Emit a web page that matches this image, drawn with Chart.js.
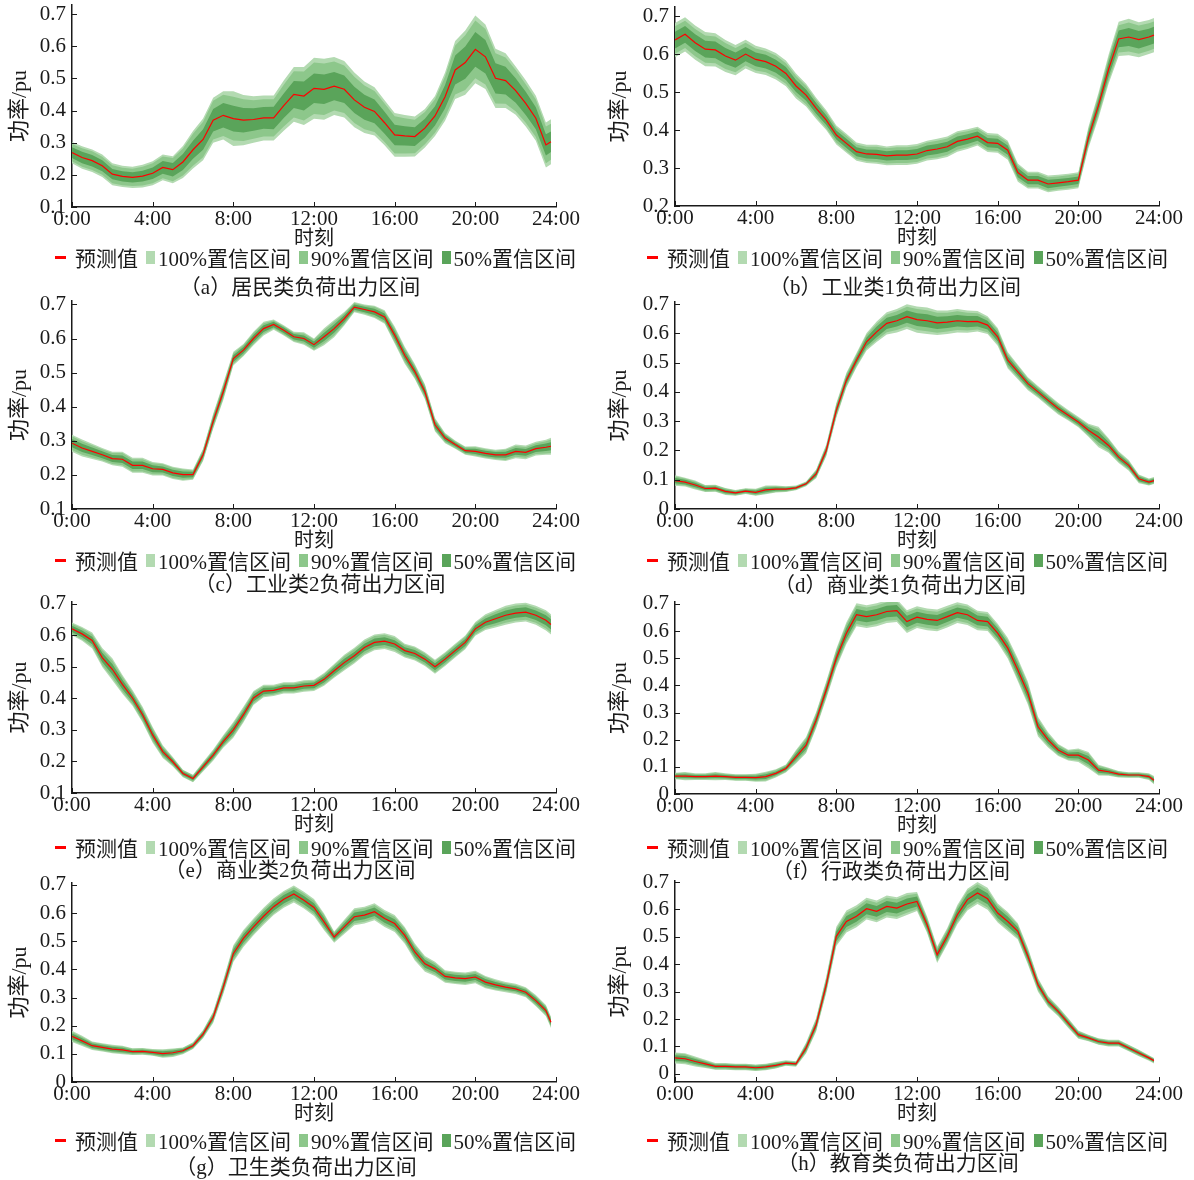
<!DOCTYPE html>
<html>
<head>
<meta charset="utf-8">
<script src="https://cdn.jsdelivr.net/npm/chart.js"></script>
<style>
  body { margin: 0; background: #fff; width: 1194px; height: 1180px; position: relative; overflow: hidden;
         font-family: 'Liberation Serif', 'Noto Sans CJK SC', serif; color: #1a1a1a; }
  canvas { position: absolute; }
  .legend { position: absolute; display: flex; align-items: center; height: 24px; font-size: 21px; white-space: nowrap; }
  .legend .dash { width: 11px; height: 3px; background: #ff0000; margin-right: 9px; }
  .legend .box { width: 9px; height: 13px; margin: 0 3px 0 8px; }
  .caption { position: absolute; font-size: 21px; height: 24px; line-height: 24px; white-space: nowrap; transform: translateX(-50%); }
</style>
</head>
<body>
<script>
// time axis (hours), 30 min steps, last point 23:45
const times = [0,0.5,1,1.5,2,2.5,3,3.5, 4,4.5,5,5.5,6,6.5,7,7.5, 8,8.5,9,9.5,10,10.5,11,11.5,
               12,12.5,13,13.5,14,14.5,15,15.5, 16,16.5,17,17.5,18,18.5,19,19.5, 20,20.5,21,21.5,22,22.5,23,23.5, 23.75];
const xTicks = [0, 4, 8, 12, 16, 20, 24];
const xTickLabels = ['0:00', '4:00', '8:00', '12:00', '16:00', '20:00', '24:00'];
const yTicks = [0, 0.1, 0.2, 0.3, 0.4, 0.5, 0.6, 0.7];
const yTickLabels = ['0', '0.1', '0.2', '0.3', '0.4', '0.5', '0.6', '0.7'];
const legendLabels = ['预测值', '100%置信区间', '90%置信区间', '50%置信区间'];

// (a) 居民类
const aPred = [0.269,0.254,0.244,0.228,0.202,0.195,0.192,0.196, 0.205,0.223,0.216,0.240,0.278,0.310,0.370,0.385,
  0.375,0.370,0.372,0.377,0.377,0.415,0.450,0.445, 0.469,0.466,0.476,0.466,0.433,0.410,0.397,0.362,
  0.324,0.321,0.319,0.345,0.383,0.443,0.526,0.549, 0.590,0.567,0.500,0.493,0.462,0.422,0.376,0.293, 0.303];
const aW100 = [0.033,0.035,0.035,0.035,0.034,0.033,0.033,0.035, 0.037,0.040,0.042,0.050,0.058,0.065,0.070,0.075,
  0.085,0.078,0.072,0.070,0.070,0.078,0.085,0.090, 0.095,0.095,0.090,0.088,0.085,0.080,0.075,0.070,
  0.068,0.065,0.062,0.060,0.062,0.075,0.090,0.100, 0.105,0.100,0.092,0.085,0.075,0.072,0.070,0.070, 0.070];
const aW90 = [0.027,0.029,0.029,0.028,0.028,0.027,0.027,0.029, 0.031,0.034,0.036,0.042,0.050,0.055,0.060,0.064,
  0.068,0.065,0.060,0.058,0.058,0.065,0.072,0.076, 0.080,0.080,0.076,0.074,0.072,0.068,0.064,0.060,
  0.058,0.055,0.052,0.050,0.052,0.063,0.076,0.085, 0.090,0.086,0.078,0.072,0.064,0.060,0.058,0.057, 0.056];
const aW50 = [0.017,0.018,0.018,0.017,0.016,0.016,0.016,0.017, 0.018,0.020,0.021,0.025,0.028,0.032,0.035,0.038,
  0.040,0.038,0.035,0.034,0.035,0.038,0.042,0.045, 0.046,0.046,0.044,0.043,0.041,0.039,0.037,0.034,
  0.032,0.030,0.029,0.029,0.030,0.036,0.045,0.050, 0.054,0.052,0.047,0.043,0.038,0.036,0.034,0.033, 0.032];

// (b) 工业类1
const bPred = [0.637,0.652,0.630,0.613,0.611,0.595,0.584,0.600, 0.586,0.580,0.568,0.549,0.516,0.492,0.457,0.426,
  0.387,0.365,0.343,0.337,0.336,0.332,0.334,0.334, 0.337,0.346,0.350,0.356,0.370,0.376,0.384,0.367,
  0.365,0.347,0.288,0.268,0.268,0.258,0.261,0.264, 0.268,0.380,0.465,0.560,0.640,0.645,0.638,0.645, 0.650];
const bW100 = [0.045,0.045,0.045,0.045,0.044,0.042,0.040,0.038, 0.036,0.035,0.035,0.034,0.033,0.030,0.028,0.026,
  0.025,0.025,0.024,0.024,0.025,0.025,0.026,0.026, 0.026,0.026,0.027,0.027,0.027,0.026,0.025,0.025,
  0.025,0.025,0.024,0.022,0.022,0.022,0.021,0.021, 0.021,0.028,0.033,0.038,0.045,0.048,0.046,0.045, 0.045];
const bW90 = [0.036,0.036,0.036,0.036,0.035,0.034,0.032,0.030, 0.029,0.028,0.028,0.027,0.026,0.024,0.022,0.021,
  0.020,0.020,0.019,0.019,0.020,0.020,0.021,0.021, 0.021,0.021,0.022,0.022,0.022,0.021,0.020,0.020,
  0.020,0.020,0.019,0.018,0.018,0.018,0.017,0.017, 0.017,0.022,0.026,0.030,0.036,0.038,0.037,0.036, 0.036];
const bW50 = [0.022,0.022,0.022,0.022,0.022,0.021,0.020,0.019, 0.018,0.018,0.017,0.017,0.016,0.015,0.014,0.013,
  0.012,0.012,0.012,0.012,0.012,0.012,0.013,0.013, 0.013,0.013,0.013,0.013,0.013,0.013,0.012,0.012,
  0.012,0.012,0.012,0.011,0.011,0.011,0.010,0.010, 0.010,0.014,0.016,0.019,0.022,0.024,0.023,0.022, 0.022];

// (c) 工业类2
const cPred = [0.293,0.279,0.269,0.259,0.248,0.246,0.228,0.228, 0.218,0.216,0.206,0.201,0.201,0.259,0.357,0.444,
  0.541,0.566,0.600,0.629,0.641,0.624,0.605,0.600, 0.582,0.605,0.629,0.658,0.692,0.685,0.678,0.663,
  0.610,0.551,0.503,0.444,0.347,0.308,0.289,0.271, 0.269,0.263,0.259,0.259,0.269,0.266,0.277,0.281, 0.284];
const cW100 = [0.025,0.025,0.022,0.020,0.020,0.022,0.022,0.022, 0.020,0.018,0.018,0.018,0.015,0.018,0.022,0.025,
  0.020,0.018,0.020,0.020,0.015,0.015,0.015,0.018, 0.018,0.025,0.025,0.020,0.015,0.015,0.018,0.020,
  0.025,0.025,0.022,0.022,0.020,0.015,0.012,0.012, 0.015,0.015,0.015,0.018,0.020,0.020,0.020,0.022, 0.025];
const cW90 = [0.020,0.020,0.018,0.016,0.016,0.018,0.018,0.018, 0.016,0.015,0.015,0.015,0.012,0.015,0.018,0.020,
  0.016,0.015,0.016,0.016,0.012,0.012,0.012,0.015, 0.015,0.020,0.020,0.016,0.012,0.012,0.015,0.016,
  0.020,0.020,0.018,0.018,0.016,0.012,0.010,0.010, 0.012,0.012,0.012,0.015,0.016,0.016,0.016,0.018, 0.020];
const cW50 = [0.012,0.012,0.011,0.010,0.010,0.011,0.011,0.011, 0.010,0.009,0.009,0.009,0.008,0.009,0.011,0.012,
  0.010,0.009,0.010,0.010,0.008,0.008,0.008,0.009, 0.009,0.012,0.012,0.010,0.008,0.008,0.009,0.010,
  0.012,0.012,0.011,0.011,0.010,0.008,0.006,0.006, 0.008,0.008,0.008,0.009,0.010,0.010,0.010,0.011, 0.012];

// (d) 商业类1
const dPred = [0.097,0.092,0.082,0.070,0.071,0.060,0.055,0.061, 0.057,0.065,0.068,0.068,0.072,0.086,0.120,0.200,
  0.337,0.440,0.508,0.571,0.605,0.634,0.643,0.657, 0.647,0.643,0.636,0.638,0.643,0.640,0.641,0.628,
  0.588,0.508,0.468,0.428,0.400,0.371,0.343,0.320, 0.297,0.269,0.246,0.217,0.177,0.149,0.103,0.092, 0.097];
const dW100 = [0.018,0.015,0.015,0.012,0.012,0.012,0.010,0.010, 0.012,0.015,0.012,0.010,0.008,0.008,0.015,0.020,
  0.025,0.025,0.025,0.030,0.035,0.038,0.040,0.042, 0.045,0.045,0.042,0.040,0.040,0.038,0.035,0.030,
  0.030,0.028,0.025,0.022,0.020,0.020,0.020,0.018, 0.018,0.022,0.035,0.025,0.020,0.018,0.015,0.012, 0.012];
const dW90 = [0.014,0.012,0.012,0.010,0.010,0.010,0.008,0.008, 0.010,0.012,0.010,0.008,0.006,0.006,0.012,0.016,
  0.020,0.020,0.020,0.024,0.028,0.030,0.032,0.034, 0.036,0.036,0.034,0.032,0.032,0.030,0.028,0.024,
  0.024,0.022,0.020,0.018,0.016,0.016,0.016,0.014, 0.014,0.018,0.028,0.020,0.016,0.014,0.012,0.010, 0.010];
const dW50 = [0.009,0.008,0.008,0.006,0.006,0.006,0.005,0.005, 0.006,0.008,0.006,0.005,0.004,0.004,0.008,0.010,
  0.012,0.012,0.012,0.015,0.018,0.019,0.020,0.021, 0.022,0.022,0.021,0.020,0.020,0.019,0.018,0.015,
  0.015,0.014,0.012,0.011,0.010,0.010,0.010,0.009, 0.009,0.011,0.018,0.012,0.010,0.009,0.008,0.006, 0.006];

// (e) 商业类2
const ePred = [0.620,0.604,0.583,0.529,0.492,0.444,0.401,0.348, 0.284,0.231,0.199,0.162,0.146,0.183,0.220,0.263,
  0.300,0.348,0.401,0.423,0.425,0.433,0.433,0.439, 0.441,0.460,0.487,0.513,0.535,0.561,0.577,0.581,
  0.572,0.551,0.542,0.524,0.500,0.524,0.551,0.577, 0.620,0.641,0.652,0.663,0.670,0.673,0.663,0.647, 0.634];
const eW100 = [0.020,0.022,0.025,0.030,0.035,0.030,0.025,0.025, 0.025,0.020,0.015,0.012,0.012,0.015,0.018,0.020,
  0.025,0.025,0.022,0.020,0.018,0.018,0.018,0.018, 0.018,0.020,0.022,0.025,0.025,0.025,0.025,0.025,
  0.025,0.022,0.022,0.022,0.022,0.022,0.022,0.022, 0.022,0.025,0.028,0.030,0.030,0.030,0.030,0.032, 0.032];
const eW90 = [0.016,0.018,0.020,0.024,0.028,0.024,0.020,0.020, 0.020,0.016,0.012,0.010,0.010,0.012,0.014,0.016,
  0.020,0.020,0.018,0.016,0.014,0.014,0.014,0.014, 0.014,0.016,0.018,0.020,0.020,0.020,0.020,0.020,
  0.020,0.018,0.018,0.018,0.018,0.018,0.018,0.018, 0.018,0.020,0.022,0.024,0.024,0.024,0.024,0.026, 0.026];
const eW50 = [0.010,0.011,0.012,0.015,0.017,0.015,0.012,0.012, 0.012,0.010,0.008,0.006,0.006,0.008,0.009,0.010,
  0.012,0.012,0.011,0.010,0.009,0.009,0.009,0.009, 0.009,0.010,0.011,0.012,0.012,0.012,0.012,0.012,
  0.012,0.011,0.011,0.011,0.011,0.011,0.011,0.011, 0.011,0.012,0.014,0.015,0.015,0.015,0.015,0.016, 0.016];

// (f) 行政类
const fPred = [0.066,0.066,0.064,0.064,0.066,0.064,0.061,0.061, 0.060,0.064,0.076,0.094,0.137,0.180,0.272,0.383,
  0.500,0.592,0.660,0.653,0.660,0.672,0.675,0.635, 0.651,0.643,0.639,0.653,0.668,0.660,0.639,0.635,
  0.592,0.537,0.457,0.371,0.248,0.199,0.162,0.143, 0.143,0.125,0.088,0.082,0.073,0.070,0.070,0.064, 0.051];
const fW100 = [0.012,0.015,0.012,0.012,0.015,0.012,0.012,0.012, 0.015,0.018,0.015,0.015,0.025,0.030,0.030,0.032,
  0.035,0.040,0.042,0.042,0.042,0.042,0.042,0.042, 0.040,0.040,0.040,0.040,0.038,0.038,0.036,0.035,
  0.035,0.038,0.042,0.042,0.036,0.028,0.022,0.020, 0.025,0.030,0.020,0.015,0.012,0.010,0.010,0.012, 0.015];
const fW90 = [0.010,0.012,0.010,0.010,0.012,0.010,0.010,0.010, 0.012,0.014,0.012,0.012,0.020,0.024,0.024,0.026,
  0.028,0.032,0.034,0.034,0.034,0.034,0.034,0.034, 0.032,0.032,0.032,0.032,0.030,0.030,0.029,0.028,
  0.028,0.030,0.034,0.034,0.029,0.022,0.018,0.016, 0.020,0.024,0.016,0.012,0.010,0.008,0.008,0.010, 0.012];
const fW50 = [0.006,0.007,0.006,0.006,0.007,0.006,0.006,0.006, 0.007,0.009,0.007,0.007,0.012,0.015,0.015,0.016,
  0.017,0.020,0.021,0.021,0.021,0.021,0.021,0.021, 0.020,0.020,0.020,0.020,0.019,0.019,0.018,0.018,
  0.018,0.019,0.021,0.021,0.018,0.014,0.011,0.010, 0.012,0.015,0.010,0.007,0.006,0.005,0.005,0.006, 0.007];

// (g) 卫生类
const gPred = [0.162,0.146,0.129,0.123,0.117,0.114,0.108,0.109, 0.105,0.101,0.104,0.111,0.129,0.170,0.230,0.337,
  0.456,0.510,0.551,0.589,0.623,0.649,0.668,0.646, 0.620,0.569,0.515,0.551,0.587,0.593,0.605,0.581,
  0.563,0.521,0.462,0.420,0.402,0.375,0.370,0.367, 0.373,0.355,0.345,0.337,0.331,0.319,0.289,0.254, 0.212];
const gW100 = [0.020,0.018,0.015,0.015,0.015,0.015,0.012,0.012, 0.012,0.015,0.015,0.012,0.012,0.015,0.020,0.025,
  0.030,0.030,0.030,0.030,0.030,0.030,0.030,0.030, 0.030,0.030,0.020,0.025,0.030,0.030,0.030,0.030,
  0.030,0.030,0.030,0.028,0.025,0.022,0.022,0.022, 0.022,0.022,0.020,0.018,0.018,0.018,0.020,0.020, 0.020];
const gW90 = [0.016,0.014,0.012,0.012,0.012,0.012,0.010,0.010, 0.010,0.012,0.012,0.010,0.010,0.012,0.016,0.020,
  0.024,0.024,0.024,0.024,0.024,0.024,0.024,0.024, 0.024,0.024,0.016,0.020,0.024,0.024,0.024,0.024,
  0.024,0.024,0.024,0.022,0.020,0.018,0.018,0.018, 0.018,0.018,0.016,0.014,0.014,0.014,0.016,0.016, 0.016];
const gW50 = [0.010,0.009,0.008,0.008,0.008,0.008,0.006,0.006, 0.006,0.008,0.008,0.006,0.006,0.008,0.010,0.012,
  0.015,0.015,0.015,0.015,0.015,0.015,0.015,0.015, 0.015,0.015,0.010,0.012,0.015,0.015,0.015,0.015,
  0.015,0.015,0.015,0.014,0.012,0.011,0.011,0.011, 0.011,0.011,0.010,0.009,0.009,0.009,0.010,0.010, 0.010];

// (h) 教育类
const hPred = [0.058,0.055,0.045,0.036,0.027,0.027,0.025,0.025, 0.022,0.025,0.031,0.039,0.036,0.094,0.179,0.325,
  0.502,0.556,0.575,0.603,0.593,0.611,0.605,0.620, 0.629,0.544,0.435,0.502,0.581,0.636,0.660,0.639,
  0.587,0.556,0.520,0.429,0.325,0.264,0.228,0.185, 0.143,0.131,0.118,0.112,0.112,0.094,0.076,0.058, 0.048];
const hW100 = [0.020,0.020,0.018,0.015,0.012,0.012,0.012,0.012, 0.012,0.012,0.012,0.010,0.010,0.020,0.025,0.030,
  0.035,0.040,0.040,0.040,0.040,0.040,0.040,0.040, 0.035,0.030,0.030,0.030,0.035,0.040,0.040,0.040,
  0.035,0.035,0.030,0.030,0.025,0.020,0.018,0.018, 0.015,0.012,0.012,0.012,0.012,0.012,0.012,0.010, 0.010];
const hW90 = [0.016,0.016,0.014,0.012,0.010,0.010,0.010,0.010, 0.010,0.010,0.010,0.008,0.008,0.016,0.020,0.024,
  0.028,0.032,0.032,0.032,0.032,0.032,0.032,0.032, 0.028,0.024,0.024,0.024,0.028,0.032,0.032,0.032,
  0.028,0.028,0.024,0.024,0.020,0.016,0.014,0.014, 0.012,0.010,0.010,0.010,0.010,0.010,0.010,0.008, 0.008];
const hW50 = [0.010,0.010,0.009,0.008,0.006,0.006,0.006,0.006, 0.006,0.006,0.006,0.005,0.005,0.010,0.012,0.015,
  0.018,0.020,0.020,0.020,0.020,0.020,0.020,0.020, 0.018,0.015,0.015,0.015,0.018,0.020,0.020,0.020,
  0.018,0.018,0.015,0.015,0.012,0.010,0.009,0.009, 0.008,0.006,0.006,0.006,0.006,0.006,0.006,0.005, 0.005];

const C100 = '#b3dab1', C90 = '#8dc78b', C50 = '#5aa45a', CLINE = '#ff0000';
const FONT = "'Liberation Serif', 'Noto Sans CJK SC', serif";
const INK = '#1a1a1a';

// page layout: two columns, chart area edges in page px
const cols = [
  { left: 0,   width: 597, L: 72,  R: 556,  legendLeft: 55 },
  { left: 600, width: 594, L: 675, R: 1159, legendLeft: 647 }
];
const panels = [
  { pred: aPred, w100: aW100, w90: aW90, w50: aW50, yMin: 0.1,  yMax: 0.728, col: 0, T: 5,   B: 207,  legY: 257,  capX: 300, capY: 287,  cap: '（a）居民类负荷出力区间' },
  { pred: bPred, w100: bW100, w90: bW90, w50: bW50, yMin: 0.2,  yMax: 0.724, col: 1, T: 7,   B: 206,  legY: 257,  capX: 895, capY: 287,  cap: '（b）工业类1负荷出力区间' },
  { pred: cPred, w100: cW100, w90: cW90, w50: cW50, yMin: 0.1,  yMax: 0.71,  col: 0, T: 301, B: 509,  legY: 560,  capX: 320, capY: 584,  cap: '（c）工业类2负荷出力区间' },
  { pred: dPred, w100: dW100, w90: dW90, w50: dW50, yMin: 0,    yMax: 0.707, col: 1, T: 302, B: 509,  legY: 560,  capX: 900, capY: 585,  cap: '（d）商业类1负荷出力区间' },
  { pred: ePred, w100: eW100, w90: eW90, w50: eW50, yMin: 0.1,  yMax: 0.705, col: 0, T: 602, B: 793,  legY: 847,  capX: 290, capY: 870,  cap: '（e）商业类2负荷出力区间' },
  { pred: fPred, w100: fW100, w90: fW90, w50: fW50, yMin: 0,    yMax: 0.707, col: 1, T: 602, B: 794,  legY: 847,  capX: 891, capY: 871,  cap: '（f）行政类负荷出力区间' },
  { pred: gPred, w100: gW100, w90: gW90, w50: gW50, yMin: 0,    yMax: 0.707, col: 0, T: 883, B: 1082, legY: 1140, capX: 296, capY: 1167, cap: '（g）卫生类负荷出力区间' },
  { pred: hPred, w100: hW100, w90: hW90, w50: hW50, yMin: -0.03, yMax: 0.704, col: 1, T: 881, B: 1082, legY: 1140, capX: 898, capY: 1163, cap: '（h）教育类负荷出力区间' }
];

// MATLAB-like inward tick marks
const inTicks = {
  id: 'inTicks',
  afterDraw(chart) {
    const { ctx, chartArea: a, scales: { x, y } } = chart;
    ctx.save();
    ctx.strokeStyle = INK;
    ctx.lineWidth = 1;
    ctx.beginPath();
    x.ticks.forEach(t => {
      const px = Math.round(x.getPixelForValue(t.value)) + 0.5;
      ctx.moveTo(px, a.bottom);
      ctx.lineTo(px, a.bottom - 5);
    });
    y.ticks.forEach(t => {
      const py = Math.round(y.getPixelForValue(t.value)) + 0.5;
      ctx.moveTo(a.left, py);
      ctx.lineTo(a.left + 5, py);
    });
    ctx.stroke();
    ctx.restore();
  }
};

const PAD_T = 14, X_H = 40;

panels.forEach(p => {
  const c = cols[p.col];
  const w = c.width;
  const h = PAD_T + (p.B - p.T) + X_H;
  const cv = document.createElement('canvas');
  cv.width = w; cv.height = h;
  cv.style.left = c.left + 'px';
  cv.style.top = (p.T - PAD_T) + 'px';
  cv.style.width = w + 'px';
  cv.style.height = h + 'px';
  document.body.appendChild(cv);

  const edge = (wd, s) => p.pred.map((v, i) => ({ x: times[i], y: v + s * wd[i] }));
  const band = (wd, color) => [
    { data: edge(wd, -1), borderWidth: 0, pointRadius: 0, fill: false },
    { data: edge(wd, 1), borderWidth: 0, pointRadius: 0, fill: '-1', backgroundColor: color }
  ];

  new Chart(cv, {
    type: 'line',
    data: {
      datasets: [
        { data: p.pred.map((v, i) => ({ x: times[i], y: v })), borderColor: CLINE, borderWidth: 1.2, pointRadius: 0, fill: false },
        ...band(p.w50, C50),
        ...band(p.w90, C90),
        ...band(p.w100, C100)
      ]
    },
    options: {
      responsive: false,
      animation: false,
      devicePixelRatio: 1,
      layout: { padding: { left: 0, top: PAD_T, right: w - (c.R - c.left), bottom: 0 } },
      elements: { line: { tension: 0 } },
      plugins: { legend: { display: false }, tooltip: { enabled: false } },
      scales: {
        x: {
          type: 'linear', min: 0, max: 24,
          grid: { display: false, drawTicks: false },
          border: { display: true, color: INK, width: 1.5 },
          afterBuildTicks: ax => { ax.ticks = xTicks.map(v => ({ value: v })); },
          afterFit: ax => { ax.height = X_H; ax.paddingLeft = 0; ax.paddingRight = 0; },
          ticks: {
            padding: 2, maxRotation: 0, autoSkip: false, color: INK,
            font: { family: FONT, size: 21, lineHeight: 1 },
            callback: v => xTickLabels[xTicks.indexOf(v)]
          },
          title: { display: true, text: '时刻', color: INK, padding: { top: 0, bottom: -3 }, font: { family: FONT, size: 20, lineHeight: 1 } }
        },
        y: {
          min: p.yMin, max: p.yMax,
          grid: { display: false, drawTicks: false },
          border: { display: true, color: INK, width: 1.5 },
          afterBuildTicks: ax => {
            ax.ticks = yTicks.filter(v => v >= ax.min - 1e-9 && v <= ax.max + 1e-9).map(v => ({ value: v }));
          },
          afterFit: ax => { ax.width = c.L - c.left; ax.paddingTop = 0; ax.paddingBottom = 0; },
          ticks: {
            padding: 6, color: INK,
            font: { family: FONT, size: 21, lineHeight: 1 },
            callback: v => yTickLabels[yTicks.indexOf(v)]
          },
          title: { display: true, text: '功率/pu', color: INK, padding: { top: 9, bottom: 0 }, font: { family: FONT, size: 22, lineHeight: 1 } }
        }
      }
    },
    plugins: [inTicks]
  });

  // legend below the axis title
  const lg = document.createElement('div');
  lg.className = 'legend';
  lg.style.left = c.legendLeft + 'px';
  lg.style.top = (p.legY - 12) + 'px';
  lg.innerHTML =
    '<span class="dash"></span><span>' + legendLabels[0] + '</span>' +
    '<span class="box" style="background:' + C100 + '"></span><span>' + legendLabels[1] + '</span>' +
    '<span class="box" style="background:' + C90 + '"></span><span>' + legendLabels[2] + '</span>' +
    '<span class="box" style="background:' + C50 + '"></span><span>' + legendLabels[3] + '</span>';
  document.body.appendChild(lg);

  const cap = document.createElement('div');
  cap.className = 'caption';
  cap.style.left = p.capX + 'px';
  cap.style.top = (p.capY - 12) + 'px';
  cap.textContent = p.cap;
  document.body.appendChild(cap);
});
</script>
</body>
</html>
